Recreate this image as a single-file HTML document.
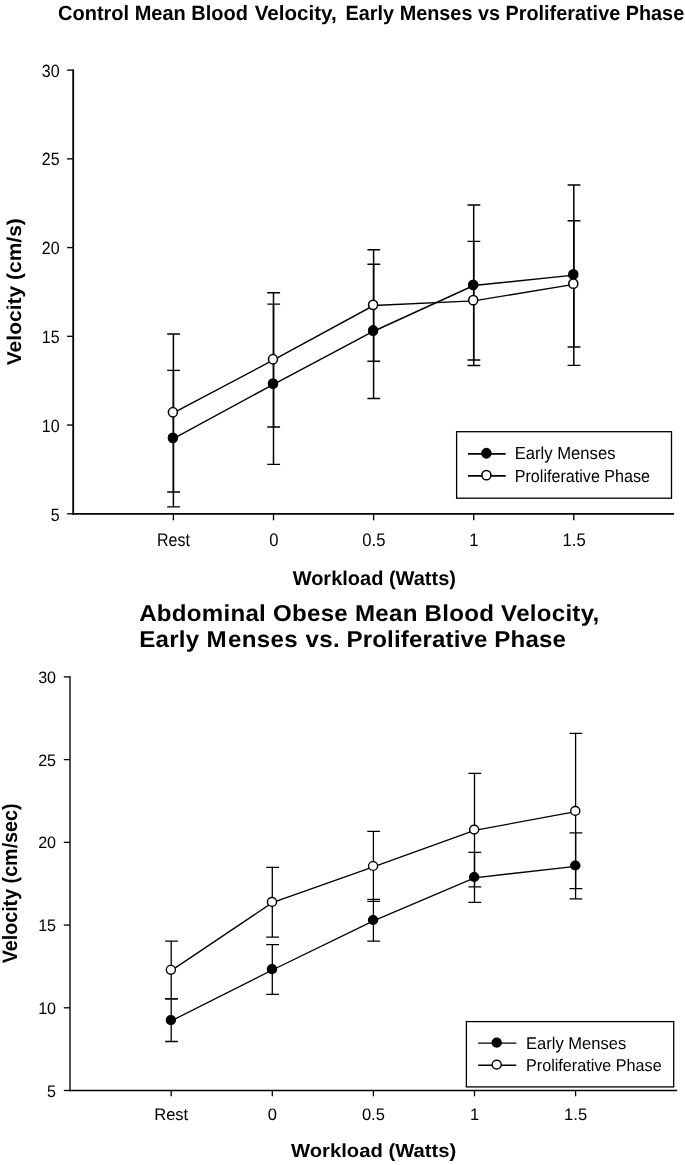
<!DOCTYPE html>
<html lang="en"><head><meta charset="utf-8"><title>Blood velocity charts</title>
<style>html,body{margin:0;padding:0;background:#fff}body{width:685px;height:1165px;overflow:hidden}svg{display:block;will-change:transform;text-rendering:geometricPrecision;font-family:"Liberation Sans",sans-serif;fill:#000;stroke:none}svg line,svg path,svg rect,svg ellipse{stroke:#000}</style>
</head><body>
<svg width="685" height="1165" viewBox="0 0 685 1165">
<rect x="0" y="0" width="685" height="1165" fill="#fff" stroke="none" style="stroke:none"/>
<g id="chart1">
<text transform="translate(58 20.4) scale(1.0 1.03)" font-size="20" text-anchor="start" font-weight="bold">Control Mean Blood</text>
<text transform="translate(254.7 20.4) scale(1.03 1.03)" font-size="20" text-anchor="start" font-weight="bold">Velocity,</text>
<text transform="translate(345.6 20.4) scale(0.992 1.03)" font-size="20" text-anchor="start" font-weight="bold">Early Menses vs Proliferative Phase</text>
<text transform="translate(21 291.7) rotate(-90) scale(1.05 1.0)" font-size="20" text-anchor="middle" font-weight="bold">Velocity (cm/s)</text>
<text transform="translate(374.3 584.7)" font-size="20" text-anchor="middle" font-weight="bold">Workload (Watts)</text>
<line x1="73.2" y1="69.42" x2="73.2" y2="514.7" stroke-width="1.8"/>
<line x1="72.3" y1="513.8" x2="674.1" y2="513.8" stroke-width="1.8"/>
<line x1="67.1" y1="70.1" x2="73.2" y2="70.1" stroke-width="1.35"/>
<text transform="translate(59.6 76.5) scale(1.0 1.11)" font-size="16" text-anchor="end">30</text>
<line x1="67.1" y1="158.84" x2="73.2" y2="158.84" stroke-width="1.35"/>
<text transform="translate(59.6 165.42) scale(1.0 1.11)" font-size="16" text-anchor="end">25</text>
<line x1="67.1" y1="247.58" x2="73.2" y2="247.58" stroke-width="1.35"/>
<text transform="translate(59.6 254.34) scale(1.0 1.11)" font-size="16" text-anchor="end">20</text>
<line x1="67.1" y1="336.32" x2="73.2" y2="336.32" stroke-width="1.35"/>
<text transform="translate(59.6 343.26) scale(1.0 1.11)" font-size="16" text-anchor="end">15</text>
<line x1="67.1" y1="425.06" x2="73.2" y2="425.06" stroke-width="1.35"/>
<text transform="translate(59.6 432.18) scale(1.0 1.11)" font-size="16" text-anchor="end">10</text>
<line x1="67.1" y1="513.8" x2="73.2" y2="513.8" stroke-width="1.35"/>
<text transform="translate(59.6 521.1) scale(1.0 1.11)" font-size="16" text-anchor="end">5</text>
<line x1="173.4" y1="513.8" x2="173.4" y2="520.3" stroke-width="1.35"/>
<text transform="translate(173.4 545.6) scale(1.0 1.135)" font-size="16" text-anchor="middle">Rest</text>
<line x1="273.5" y1="513.8" x2="273.5" y2="520.3" stroke-width="1.35"/>
<text transform="translate(273.8 545.6) scale(1.04 1.135)" font-size="16" text-anchor="middle">0</text>
<line x1="373.6" y1="513.8" x2="373.6" y2="520.3" stroke-width="1.35"/>
<text transform="translate(373.9 545.6) scale(1.04 1.135)" font-size="16" text-anchor="middle">0.5</text>
<line x1="473.7" y1="513.8" x2="473.7" y2="520.3" stroke-width="1.35"/>
<text transform="translate(474 545.6) scale(1.04 1.135)" font-size="16" text-anchor="middle">1</text>
<line x1="573.8" y1="513.8" x2="573.8" y2="520.3" stroke-width="1.35"/>
<text transform="translate(574.1 545.6) scale(1.04 1.135)" font-size="16" text-anchor="middle">1.5</text>
<path d="M173.4 370.4V506.9" fill="none" stroke-width="1.5"/>
<path d="M167.2 370.4H180M167.2 506.9H180" fill="none" stroke-width="1.4"/>
<path d="M273.5 304.1V464.4" fill="none" stroke-width="1.5"/>
<path d="M267.3 304.1H280.1M267.3 464.4H280.1" fill="none" stroke-width="1.4"/>
<path d="M373.6 264.3V398.5" fill="none" stroke-width="1.5"/>
<path d="M367.4 264.3H380.2M367.4 398.5H380.2" fill="none" stroke-width="1.4"/>
<path d="M473.7 205V365.5" fill="none" stroke-width="1.5"/>
<path d="M467.5 205H480.3M467.5 365.5H480.3" fill="none" stroke-width="1.4"/>
<path d="M573.8 185V365.4" fill="none" stroke-width="1.5"/>
<path d="M567.6 185H580.4M567.6 365.4H580.4" fill="none" stroke-width="1.4"/>
<path d="M173.4 438.55L273.5 384.35L373.6 331.25L473.7 285.55L573.8 275.15" fill="none" stroke-width="1.4"/>
<ellipse cx="172.9" cy="437.85" rx="4.5" ry="4.7" fill="#000" stroke-width="1.55"/>
<ellipse cx="273" cy="383.65" rx="4.5" ry="4.7" fill="#000" stroke-width="1.55"/>
<ellipse cx="373.1" cy="330.55" rx="4.5" ry="4.7" fill="#000" stroke-width="1.55"/>
<ellipse cx="473.2" cy="284.85" rx="4.5" ry="4.7" fill="#000" stroke-width="1.55"/>
<ellipse cx="573.3" cy="274.45" rx="4.5" ry="4.7" fill="#000" stroke-width="1.55"/>
<path d="M173.4 334V492" fill="none" stroke-width="1.5"/>
<path d="M167.2 334H180M167.2 492H180" fill="none" stroke-width="1.4"/>
<path d="M273.5 292.8V427" fill="none" stroke-width="1.5"/>
<path d="M267.3 292.8H280.1M267.3 427H280.1" fill="none" stroke-width="1.4"/>
<path d="M373.6 249.7V361.3" fill="none" stroke-width="1.5"/>
<path d="M367.4 249.7H380.2M367.4 361.3H380.2" fill="none" stroke-width="1.4"/>
<path d="M473.7 241.4V360" fill="none" stroke-width="1.5"/>
<path d="M467.5 241.4H480.3M467.5 360H480.3" fill="none" stroke-width="1.4"/>
<path d="M573.8 220.7V347" fill="none" stroke-width="1.5"/>
<path d="M567.6 220.7H580.4M567.6 347H580.4" fill="none" stroke-width="1.4"/>
<path d="M173.4 412.95L273.5 359.95L373.6 305.55L473.7 300.85L573.8 284.35" fill="none" stroke-width="1.4"/>
<ellipse cx="172.9" cy="412.25" rx="4.5" ry="4.7" fill="#fff" stroke-width="1.55"/>
<ellipse cx="273" cy="359.25" rx="4.5" ry="4.7" fill="#fff" stroke-width="1.55"/>
<ellipse cx="373.1" cy="304.85" rx="4.5" ry="4.7" fill="#fff" stroke-width="1.55"/>
<ellipse cx="473.2" cy="300.15" rx="4.5" ry="4.7" fill="#fff" stroke-width="1.55"/>
<ellipse cx="573.3" cy="283.65" rx="4.5" ry="4.7" fill="#fff" stroke-width="1.55"/>
<rect x="456.6" y="431.7" width="214.9" height="66.5" fill="#fff" stroke-width="1.3"/>
<line x1="468" y1="453.9" x2="505.7" y2="453.9" stroke-width="1.6"/>
<ellipse cx="486.4" cy="453.25" rx="4.5" ry="4.7" fill="#000" stroke-width="1.55"/>
<text transform="translate(514.7 459.1) scale(1.04 1.09)" font-size="16" text-anchor="start">Early Menses</text>
<line x1="468" y1="475.85" x2="505.7" y2="475.85" stroke-width="1.6"/>
<ellipse cx="486.4" cy="475.15" rx="4.5" ry="4.7" fill="#fff" stroke-width="1.55"/>
<text transform="translate(514.7 481.5) scale(1.008 1.09)" font-size="16" text-anchor="start">Proliferative Phase</text>
</g>
<g id="chart2">
<text transform="translate(139.2 620.9) scale(1.005 0.96)" font-size="24" text-anchor="start" font-weight="bold" letter-spacing="0.25">Abdominal Obese Mean Blood Velocity,</text>
<text transform="translate(139.2 647.4) scale(1.005 0.96)" font-size="24" text-anchor="start" font-weight="bold" letter-spacing="0.25" dx="0 0 0 0 0 0 0 1.3 0 0 0 0 0 0.8">Early Menses vs.</text>
<text transform="translate(346.55 647.4) scale(1.005 0.96)" font-size="24" text-anchor="start" font-weight="bold" letter-spacing="0.12">Proliferative Phase</text>
<text transform="translate(16.7 883.4) rotate(-90) scale(0.985 1.04)" font-size="20" text-anchor="middle" font-weight="bold">Velocity (cm/sec)</text>
<text transform="translate(373.6 1156.5) scale(1.012 0.948)" font-size="20" text-anchor="middle" font-weight="bold">Workload (Watts)</text>
<line x1="70" y1="676.25" x2="70" y2="1091.28" stroke-width="1.35"/>
<line x1="69.33" y1="1090.5" x2="677.1" y2="1090.5" stroke-width="1.55"/>
<line x1="63.8" y1="676.9" x2="70" y2="676.9" stroke-width="1.3"/>
<text transform="translate(56.1 682.8) scale(1.01 1.035)" font-size="16" text-anchor="end">30</text>
<line x1="63.8" y1="759.62" x2="70" y2="759.62" stroke-width="1.3"/>
<text transform="translate(56.1 765.61) scale(1.01 1.035)" font-size="16" text-anchor="end">25</text>
<line x1="63.8" y1="842.34" x2="70" y2="842.34" stroke-width="1.3"/>
<text transform="translate(56.1 848.42) scale(1.01 1.035)" font-size="16" text-anchor="end">20</text>
<line x1="63.8" y1="925.06" x2="70" y2="925.06" stroke-width="1.3"/>
<text transform="translate(56.1 931.23) scale(1.01 1.035)" font-size="16" text-anchor="end">15</text>
<line x1="63.8" y1="1007.78" x2="70" y2="1007.78" stroke-width="1.3"/>
<text transform="translate(56.1 1014.04) scale(1.01 1.035)" font-size="16" text-anchor="end">10</text>
<line x1="63.8" y1="1090.5" x2="70" y2="1090.5" stroke-width="1.3"/>
<text transform="translate(56.1 1096.85) scale(1.01 1.035)" font-size="16" text-anchor="end">5</text>
<line x1="171.2" y1="1090.5" x2="171.2" y2="1096.3" stroke-width="1.3"/>
<text transform="translate(171.2 1120.4) scale(1.035 1.035)" font-size="16" text-anchor="middle">Rest</text>
<line x1="272.3" y1="1090.5" x2="272.3" y2="1096.3" stroke-width="1.3"/>
<text transform="translate(272.3 1120.4) scale(1.035 1.035)" font-size="16" text-anchor="middle">0</text>
<line x1="373.4" y1="1090.5" x2="373.4" y2="1096.3" stroke-width="1.3"/>
<text transform="translate(373.4 1120.4) scale(1.035 1.035)" font-size="16" text-anchor="middle">0.5</text>
<line x1="474.5" y1="1090.5" x2="474.5" y2="1096.3" stroke-width="1.3"/>
<text transform="translate(474.5 1120.4) scale(1.035 1.035)" font-size="16" text-anchor="middle">1</text>
<line x1="575.6" y1="1090.5" x2="575.6" y2="1096.3" stroke-width="1.3"/>
<text transform="translate(575.6 1120.4) scale(1.035 1.035)" font-size="16" text-anchor="middle">1.5</text>
<path d="M171.2 998.8V1041.5" fill="none" stroke-width="1.3"/>
<path d="M165.1 998.8H177.9M165.1 1041.5H177.9" fill="none" stroke-width="1.3"/>
<path d="M272.3 944.7V994.4" fill="none" stroke-width="1.3"/>
<path d="M266.2 944.7H279M266.2 994.4H279" fill="none" stroke-width="1.3"/>
<path d="M373.4 899.3V941.1" fill="none" stroke-width="1.3"/>
<path d="M367.3 899.3H380.1M367.3 941.1H380.1" fill="none" stroke-width="1.3"/>
<path d="M474.5 852.4V902.4" fill="none" stroke-width="1.3"/>
<path d="M468.4 852.4H481.2M468.4 902.4H481.2" fill="none" stroke-width="1.3"/>
<path d="M575.6 832.8V898.9" fill="none" stroke-width="1.3"/>
<path d="M569.5 832.8H582.3M569.5 898.9H582.3" fill="none" stroke-width="1.3"/>
<path d="M171.2 1020.9L272.3 970L373.4 920.8L474.5 877.8L575.6 866.3" fill="none" stroke-width="1.3"/>
<ellipse cx="170.87" cy="1020.1" rx="4.55" ry="4.4" fill="#000" stroke-width="1.4"/>
<ellipse cx="271.97" cy="969.2" rx="4.55" ry="4.4" fill="#000" stroke-width="1.4"/>
<ellipse cx="373.07" cy="920" rx="4.55" ry="4.4" fill="#000" stroke-width="1.4"/>
<ellipse cx="474.17" cy="877" rx="4.55" ry="4.4" fill="#000" stroke-width="1.4"/>
<ellipse cx="575.27" cy="865.5" rx="4.55" ry="4.4" fill="#000" stroke-width="1.4"/>
<path d="M171.2 941.1V998.8" fill="none" stroke-width="1.3"/>
<path d="M165.1 941.1H177.9M165.1 998.8H177.9" fill="none" stroke-width="1.3"/>
<path d="M272.3 867.4V937.05" fill="none" stroke-width="1.3"/>
<path d="M266.2 867.4H279M266.2 937.05H279" fill="none" stroke-width="1.3"/>
<path d="M373.4 831.3V901.3" fill="none" stroke-width="1.3"/>
<path d="M367.3 831.3H380.1M367.3 901.3H380.1" fill="none" stroke-width="1.3"/>
<path d="M474.5 773.3V886.9" fill="none" stroke-width="1.3"/>
<path d="M468.4 773.3H481.2M468.4 886.9H481.2" fill="none" stroke-width="1.3"/>
<path d="M575.6 733.4V888.6" fill="none" stroke-width="1.3"/>
<path d="M569.5 733.4H582.3M569.5 888.6H582.3" fill="none" stroke-width="1.3"/>
<path d="M171.2 970.6L272.3 902.7L373.4 866.8L474.5 830.4L575.6 811.7" fill="none" stroke-width="1.3"/>
<ellipse cx="170.87" cy="969.8" rx="4.55" ry="4.4" fill="#fff" stroke-width="1.4"/>
<ellipse cx="271.97" cy="901.9" rx="4.55" ry="4.4" fill="#fff" stroke-width="1.4"/>
<ellipse cx="373.07" cy="866" rx="4.55" ry="4.4" fill="#fff" stroke-width="1.4"/>
<ellipse cx="474.17" cy="829.6" rx="4.55" ry="4.4" fill="#fff" stroke-width="1.4"/>
<ellipse cx="575.27" cy="810.9" rx="4.55" ry="4.4" fill="#fff" stroke-width="1.4"/>
<rect x="466.4" y="1021.6" width="207.3" height="65.3" fill="#fff" stroke-width="1.3"/>
<line x1="478.1" y1="1043.1" x2="516.3" y2="1043.1" stroke-width="1.45"/>
<ellipse cx="496.7" cy="1042.55" rx="4.55" ry="4.4" fill="#000" stroke-width="1.4"/>
<text transform="translate(526 1048.7) scale(1.034 1.06)" font-size="16" text-anchor="start">Early Menses</text>
<line x1="478.1" y1="1065.2" x2="516.3" y2="1065.2" stroke-width="1.45"/>
<ellipse cx="496.7" cy="1064.6" rx="4.55" ry="4.4" fill="#fff" stroke-width="1.4"/>
<text transform="translate(526 1070.9) scale(1.01 1.06)" font-size="16" text-anchor="start">Proliferative Phase</text>
</g>
</svg></body></html>
